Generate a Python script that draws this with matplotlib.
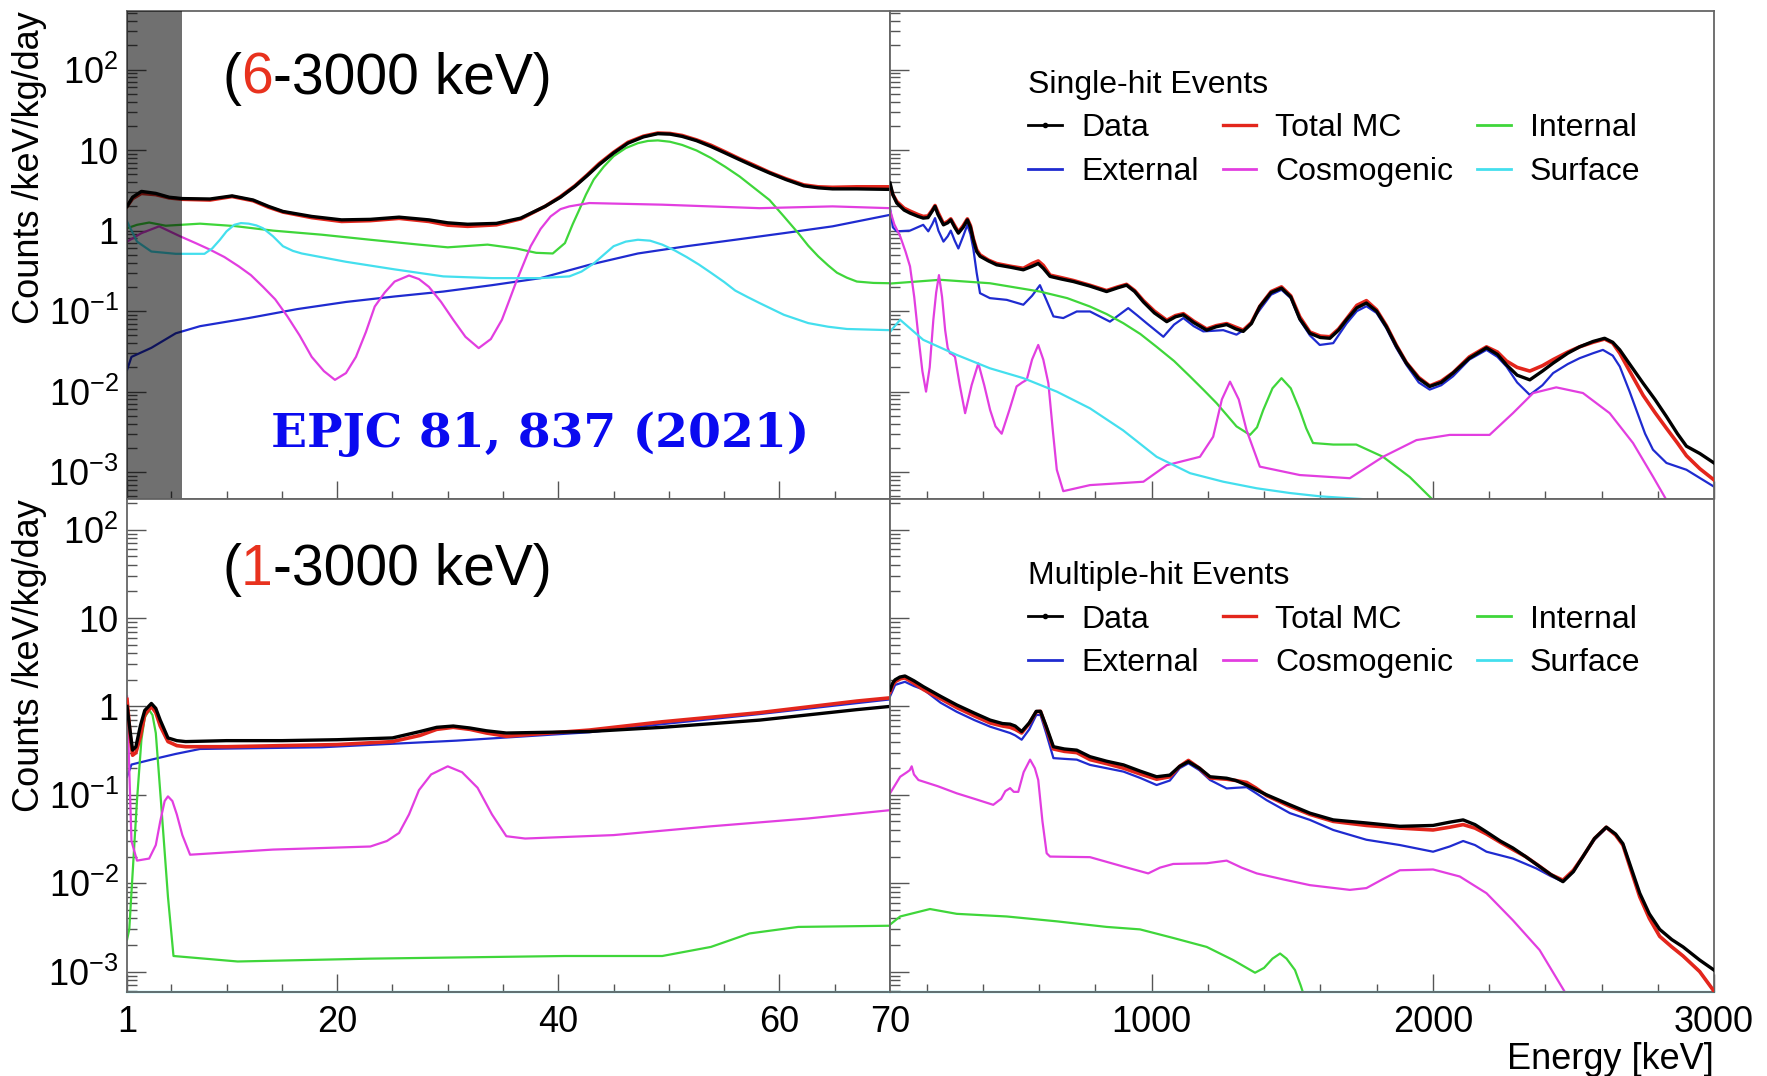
import matplotlib
matplotlib.use("Agg")
import matplotlib.pyplot as plt
from matplotlib.lines import Line2D
from matplotlib.ticker import FixedLocator, FixedFormatter, LogLocator, NullFormatter

plt.rcParams['font.family'] = ['Liberation Sans', 'DejaVu Sans']
plt.rcParams['mathtext.fontset'] = 'custom'
plt.rcParams['mathtext.rm'] = 'Liberation Sans'
plt.rcParams['mathtext.it'] = 'Liberation Sans:italic'
plt.rcParams['mathtext.bf'] = 'Liberation Sans:bold'
plt.rcParams['mathtext.default'] = 'regular'

# ---------------- single-hit, 1-70 keV ----------------
sl_data_e = [1, 1.5, 2.3, 3.6, 4.8, 6, 8.5, 10.5, 12.4, 13.8, 15.1, 17.7, 20.4, 23, 25.6, 28.3,
             30, 31.8, 34.4, 36.6, 38.8, 40.2, 41.5, 42.6, 43.7, 45, 46.3, 47.7, 49, 50.1,
             51.2, 52.5, 53.8, 55.1, 56.4, 57.7, 59.1, 60.6, 62.2, 63.5, 64.8, 67, 70]
sl_data_v = [2.0, 2.6, 3.07, 2.9, 2.6, 2.5, 2.47, 2.7, 2.4, 2.0, 1.73, 1.5, 1.36, 1.38, 1.47,
             1.36, 1.25, 1.2, 1.23, 1.43, 2.0, 2.6, 3.54, 4.8, 6.6, 9.2, 12.2, 14.6, 16, 15.8,
             14.8, 13.1, 11.1, 9.2, 7.6, 6.3, 5.2, 4.3, 3.6, 3.4, 3.3, 3.3, 3.25]
sl_mc_v = [2.0, 2.5, 2.9, 2.8, 2.55, 2.45, 2.4, 2.65, 2.35, 1.95, 1.7, 1.45, 1.3, 1.33, 1.42,
           1.3, 1.17, 1.13, 1.18, 1.4, 2.0, 2.65, 3.6, 4.9, 6.8, 9.4, 12.5, 14.9, 16.3, 16.1,
           15.2, 13.4, 11.5, 9.5, 7.8, 6.5, 5.3, 4.4, 3.7, 3.5, 3.45, 3.5, 3.5]
sl_ext_e = [1, 1.4, 3.2, 5.4, 7.6, 12, 16.4, 20.8, 25.2, 29.6, 34, 38.4, 42.8, 47.2, 51.6,
            56, 60.4, 64.8, 70]
sl_ext_v = [0.0186, 0.027, 0.035, 0.053, 0.065, 0.082, 0.106, 0.13, 0.152, 0.175, 0.21, 0.257,
            0.376, 0.52, 0.64, 0.77, 0.93, 1.13, 1.57]
sl_int_e = [1, 1.9, 3.0, 4.5, 7.6, 10.7, 14.2, 18.6, 23, 27.4, 30, 33.6, 36.2, 38, 39.5, 40.6,
            41.3, 41.9, 42.5, 43.2, 44.1, 45, 46.1, 47.2, 48.1, 49, 50.1, 51.2, 52.5, 53.8,
            55.1, 56.4, 57.7, 59.1, 60.4, 61.7, 62.6, 63.5, 64.4, 65.2, 66.1, 67, 68.5, 70]
sl_int_v = [1.07, 1.18, 1.26, 1.15, 1.22, 1.14, 1.0, 0.89, 0.77, 0.67, 0.62, 0.67, 0.6, 0.53,
            0.52, 0.70, 1.2, 1.82, 2.8, 4.3, 6.2, 8.4, 10.6, 12.2, 13.0, 13.2, 12.7, 11.6, 9.9,
            8.0, 6.2, 4.7, 3.4, 2.4, 1.5, 0.93, 0.65, 0.48, 0.37, 0.30, 0.26, 0.233, 0.224,
            0.222]
sl_cos_e = [1, 2.3, 3.9, 5.8, 7.2, 8.5, 9.8, 11.1, 12.2, 13.3, 14.4, 15.5, 16.6, 17.7, 18.8,
            19.8, 20.8, 21.7, 22.6, 23.4, 24.3, 25.2, 26.5, 27.4, 28.3, 29.4, 30.5, 31.6, 32.8,
            33.9, 34.9, 35.6, 36.2, 36.9, 37.5, 38.4, 39.3, 40.2, 41, 42.8, 49.4, 58.2, 64.8, 70]
sl_cos_v = [0.73, 0.93, 1.13, 0.85, 0.7, 0.58, 0.47, 0.36, 0.28, 0.2, 0.14, 0.086, 0.05, 0.027,
            0.018, 0.014, 0.017, 0.027, 0.055, 0.114, 0.17, 0.233, 0.277, 0.25, 0.2, 0.13,
            0.078, 0.048, 0.0347, 0.045, 0.078, 0.14, 0.233, 0.4, 0.64, 1.05, 1.5, 1.85, 2.0,
            2.2, 2.1, 1.9, 2.0, 1.9]
sl_surf_e = [1, 1.9, 3.2, 5.4, 8.0, 8.7, 9.4, 10, 10.7, 11.3, 12, 12.7, 13.3, 14.2, 15.1, 16,
             16.8, 20.8, 25.2, 29.6, 34, 38.4, 41, 42.1, 43.2, 44.1, 45, 46.1, 47.2, 48.3, 49.4,
             50.5, 51.6, 52.7, 53.8, 55, 56, 57.1, 58.2, 60.4, 62.6, 64.4, 66.1, 70]
sl_surf_v = [1.3, 0.73, 0.55, 0.515, 0.515, 0.6, 0.77, 0.98, 1.18, 1.24, 1.22, 1.16, 1.07,
             0.85, 0.64, 0.56, 0.52, 0.41, 0.33, 0.27, 0.257, 0.257, 0.27, 0.31, 0.39, 0.5,
             0.64, 0.73, 0.77, 0.75, 0.67, 0.57, 0.47, 0.38, 0.30, 0.23, 0.18, 0.15, 0.126,
             0.09, 0.071, 0.064, 0.06, 0.058]

# ---------------- single-hit, 70-3000 keV ----------------
sh_data_e = [70, 80, 94, 120, 141, 170, 188, 205, 220, 230, 240, 260, 275, 286, 300, 313, 330,
             345, 356, 366, 378, 390, 420, 449, 500, 544, 575, 597, 615, 639, 680, 722, 780,
             840, 880, 911, 940, 971, 1010, 1054, 1085, 1113, 1150, 1196, 1230, 1267, 1300,
             1326, 1355, 1385, 1425, 1462, 1495, 1527, 1563, 1600, 1634, 1665, 1693, 1730,
             1764, 1800, 1835, 1870, 1906, 1950, 1989, 2030, 2072, 2130, 2191, 2230, 2262,
             2300, 2345, 2390, 2428, 2480, 2522, 2570, 2611, 2640, 2665, 2700, 2748, 2790,
             2831, 2870, 2902, 2950, 3000]
sh_data_v = [3.9, 2.8, 2.2, 1.8, 1.65, 1.5, 1.43, 1.45, 1.75, 2.0, 1.6, 1.18, 1.25, 1.36, 1.1,
             0.93, 1.1, 1.36, 1.1, 0.77, 0.55, 0.48, 0.42, 0.376, 0.35, 0.326, 0.36, 0.39,
             0.34, 0.27, 0.25, 0.233, 0.205, 0.175, 0.195, 0.21, 0.175, 0.13, 0.095, 0.074,
             0.085, 0.09, 0.072, 0.058, 0.064, 0.068, 0.06, 0.056, 0.07, 0.114, 0.17, 0.193,
             0.15, 0.08, 0.053, 0.047, 0.046, 0.058, 0.078, 0.11, 0.126, 0.1, 0.064, 0.037,
             0.0226, 0.0145, 0.0116, 0.013, 0.017, 0.026, 0.035, 0.029, 0.0215, 0.016, 0.014,
             0.018, 0.0226, 0.03, 0.036, 0.042, 0.046, 0.041, 0.033, 0.022, 0.0127, 0.008,
             0.0049, 0.003, 0.0021, 0.0017, 0.0013]
sh_mc_v = [3.6, 2.8, 2.3, 1.9, 1.75, 1.58, 1.5, 1.52, 1.8, 2.05, 1.7, 1.22, 1.3, 1.4, 1.15,
           0.96, 1.15, 1.4, 1.15, 0.8, 0.58, 0.5, 0.43, 0.39, 0.36, 0.34, 0.39, 0.42, 0.37,
           0.28, 0.26, 0.24, 0.21, 0.18, 0.2, 0.215, 0.18, 0.135, 0.1, 0.077, 0.088, 0.093,
           0.075, 0.06, 0.066, 0.07, 0.063, 0.058, 0.072, 0.115, 0.175, 0.2, 0.155, 0.085,
           0.055, 0.049, 0.048, 0.06, 0.08, 0.118, 0.135, 0.104, 0.066, 0.038, 0.023, 0.015,
           0.0118, 0.0135, 0.0172, 0.027, 0.036, 0.031, 0.024, 0.02, 0.018, 0.021, 0.025,
           0.031, 0.036, 0.041, 0.045, 0.04, 0.03, 0.018, 0.009, 0.0055, 0.0035, 0.0023,
           0.0016, 0.0011, 0.0008]
sh_ext_e = [70, 80, 94, 141, 188, 206, 220, 230, 242, 260, 275, 286, 300, 313, 330, 345, 356,
            366, 378, 390, 425, 485, 544, 575, 603, 625, 651, 686, 734, 781, 852, 885, 917,
            950, 982, 1042, 1080, 1113, 1150, 1184, 1255, 1302, 1340, 1385, 1425, 1462, 1495,
            1527, 1563, 1598, 1646, 1693, 1730, 1764, 1800, 1835, 1870, 1906, 1950, 1989,
            2030, 2072, 2130, 2191, 2230, 2262, 2300, 2345, 2390, 2428, 2480, 2522, 2570,
            2605, 2640, 2665, 2700, 2724, 2755, 2783, 2831, 2902, 3000]
sh_ext_v = [1.9, 1.1, 0.98, 1.0, 1.18, 0.98, 1.2, 1.43, 1.0, 0.73, 0.85, 1.0, 0.75, 0.6, 0.85,
            1.18, 0.9, 0.6, 0.3, 0.167, 0.145, 0.138, 0.12, 0.155, 0.21, 0.14, 0.086, 0.082,
            0.099, 0.099, 0.074, 0.09, 0.109, 0.088, 0.071, 0.048, 0.068, 0.082, 0.065, 0.056,
            0.058, 0.051, 0.062, 0.104, 0.16, 0.184, 0.145, 0.078, 0.05, 0.038, 0.04, 0.07,
            0.1, 0.115, 0.095, 0.061, 0.035, 0.0215, 0.013, 0.0106, 0.012, 0.0155, 0.025,
            0.033, 0.027, 0.0205, 0.013, 0.0091, 0.012, 0.017, 0.022, 0.026, 0.03, 0.033,
            0.028, 0.0205, 0.01, 0.0059, 0.003, 0.0019, 0.0013, 0.00107, 0.00066]
sh_int_e = [70, 248, 425, 603, 700, 781, 840, 899, 960, 1018, 1080, 1137, 1185, 1231, 1270,
            1302, 1350, 1375, 1397, 1430, 1462, 1495, 1527, 1550, 1574, 1646, 1728, 1823,
            1918, 2001]
sh_int_v = [0.22, 0.245, 0.222, 0.175, 0.145, 0.114, 0.092, 0.071, 0.052, 0.036, 0.024,
            0.0154, 0.0105, 0.0072, 0.005, 0.0037, 0.0029, 0.0036, 0.0059, 0.011, 0.0147,
            0.011, 0.0059, 0.0035, 0.0023, 0.0022, 0.0022, 0.00155, 0.00087, 0.00045]
sh_cos_e = [70, 85, 106, 125, 141, 156, 171, 185, 198, 211, 224, 234, 244, 255, 266, 275, 283,
            292, 301, 318, 337, 360, 384, 405, 426, 445, 467, 495, 520, 540, 556, 575, 597,
            615, 633, 650, 663, 686, 781, 971, 1054, 1172, 1219, 1250, 1279, 1310, 1338, 1385,
            1527, 1705, 1823, 1942, 2060, 2202, 2285, 2357, 2439, 2534, 2629, 2712, 2783, 2831]
sh_cos_v = [1.8, 1.2, 0.85, 0.55, 0.36, 0.15, 0.048, 0.018, 0.01, 0.02, 0.078, 0.17, 0.28,
            0.15, 0.058, 0.035, 0.030, 0.029, 0.027, 0.012, 0.0054, 0.012, 0.0225, 0.012,
            0.0059, 0.0037, 0.003, 0.006, 0.0116, 0.013, 0.014, 0.025, 0.038, 0.025, 0.0127,
            0.003, 0.00107, 0.00058, 0.00069, 0.00076, 0.00122, 0.00155, 0.00275, 0.008,
            0.0133, 0.008, 0.0033, 0.00117, 0.00092, 0.00084, 0.00155, 0.0025, 0.0029, 0.0029,
            0.0054, 0.0096, 0.0113, 0.0096, 0.0054, 0.0023, 0.00088, 0.00045]
sh_surf_e = [70, 78, 106, 188, 307, 425, 544, 663, 781, 899, 1018, 1137, 1255, 1374, 1492,
             1600, 1760]
sh_surf_v = [0.055, 0.06, 0.078, 0.044, 0.0286, 0.0195, 0.0147, 0.010, 0.0062, 0.0033, 0.00155,
             0.00097, 0.00076, 0.00063, 0.00055, 0.0005, 0.00046]

# ---------------- multiple-hit, 1-70 keV ----------------
ml_data_e = [1, 1.3, 1.5, 1.8, 2.2, 2.6, 3.2, 3.6, 4.0, 4.7, 5.5, 6.3, 10, 15, 20, 25, 27.5, 29,
             30.5, 32, 33.5, 35.3, 42.8, 49.4, 58.2, 67, 70]
ml_data_v = [1.0, 0.5, 0.32, 0.35, 0.6, 0.9, 1.08, 0.95, 0.7, 0.44, 0.41, 0.4, 0.41, 0.41, 0.42,
             0.44, 0.52, 0.58, 0.6, 0.57, 0.53, 0.5, 0.52, 0.58, 0.7, 0.92, 1.0]
ml_mc_v = [1.2, 0.45, 0.28, 0.3, 0.45, 0.8, 1.0, 0.85, 0.6, 0.4, 0.36, 0.35, 0.35, 0.36, 0.37,
           0.4, 0.47, 0.55, 0.58, 0.55, 0.5, 0.46, 0.54, 0.67, 0.85, 1.15, 1.25]
ml_ext_e = [1, 1.4, 3.2, 5.4, 7.6, 18.6, 30.8, 42.8, 49.4, 58.2, 70]
ml_ext_v = [0.16, 0.22, 0.25, 0.29, 0.33, 0.345, 0.41, 0.51, 0.63, 0.82, 1.2]
ml_int_e = [1, 1.2, 1.45, 1.9, 2.3, 2.6, 3.0, 3.3, 3.6, 4.1, 4.7, 5.2, 11, 23, 40.6, 49.4,
            53.8, 57.3, 61.7, 70]
ml_int_v = [0.0023, 0.003, 0.01, 0.087, 0.42, 0.75, 0.91, 0.8, 0.5, 0.074, 0.007, 0.0015,
            0.0013, 0.0014, 0.0015, 0.0015, 0.0019, 0.0027, 0.0032, 0.0033]
ml_cos_e = [1, 1.4, 1.9, 3.0, 3.6, 4.0, 4.4, 4.7, 5.1, 5.5, 6.0, 6.7, 14.2, 23, 24.5, 25.6,
            26.5, 27.4, 28.5, 30, 31.3, 32.7, 34, 35.3, 37, 45, 53.8, 62.6, 70]
ml_cos_v = [1.3, 0.03, 0.018, 0.019, 0.027, 0.05, 0.085, 0.096, 0.085, 0.06, 0.035, 0.021,
            0.024, 0.026, 0.03, 0.037, 0.06, 0.113, 0.17, 0.21, 0.18, 0.12, 0.06, 0.034, 0.032,
            0.035, 0.044, 0.054, 0.067]
ml_surf_e = [1, 70]
ml_surf_v = [5.9e-4, 5.9e-4]

# ---------------- multiple-hit, 70-3000 keV ----------------
mh_data_e = [70, 80, 88, 105, 123, 155, 189, 250, 307, 370, 426, 470, 497, 515, 538, 565, 590,
             605, 625, 651, 690, 734, 781, 840, 900, 960, 1018, 1065, 1100, 1131, 1170, 1208,
             1267, 1300, 1338, 1370, 1409, 1492, 1563, 1646, 1764, 1883, 2001, 2060, 2108,
             2150, 2191, 2240, 2285, 2330, 2380, 2420, 2463, 2500, 2534, 2575, 2617, 2650,
             2676, 2705, 2736, 2770, 2807, 2850, 2890, 2949, 3000]
mh_data_v = [1.53, 1.85, 2.0, 2.15, 2.21, 1.95, 1.67, 1.3, 1.04, 0.84, 0.70, 0.64, 0.63, 0.6,
             0.52, 0.65, 0.88, 0.88, 0.6, 0.35, 0.33, 0.32, 0.27, 0.24, 0.218, 0.185, 0.16,
             0.167, 0.21, 0.237, 0.2, 0.16, 0.154, 0.145, 0.129, 0.115, 0.1, 0.077, 0.062,
             0.052, 0.048, 0.044, 0.045, 0.049, 0.052, 0.046, 0.038, 0.03, 0.025, 0.02, 0.0154,
             0.0125, 0.0104, 0.0135, 0.02, 0.032, 0.043, 0.036, 0.028, 0.015, 0.0077, 0.0045,
             0.003, 0.0023, 0.0019, 0.00135, 0.00104]
mh_mc_v = [1.45, 1.75, 1.9, 2.05, 2.1, 1.83, 1.55, 1.22, 0.97, 0.78, 0.65, 0.6, 0.58, 0.55,
           0.5, 0.64, 0.87, 0.88, 0.58, 0.33, 0.31, 0.3, 0.25, 0.225, 0.2, 0.172, 0.15, 0.16,
           0.21, 0.245, 0.2, 0.155, 0.15, 0.145, 0.138, 0.12, 0.098, 0.074, 0.06, 0.05, 0.045,
           0.042, 0.04, 0.043, 0.046, 0.042, 0.036, 0.029, 0.024, 0.02, 0.0155, 0.0125,
           0.0108, 0.014, 0.02, 0.032, 0.043, 0.035, 0.027, 0.014, 0.007, 0.004, 0.0025,
           0.0019, 0.0015, 0.001, 0.0006]
mh_ext_e = [70, 88, 123, 155, 189, 250, 307, 370, 426, 497, 515, 538, 565, 590, 605, 625, 651,
            690, 734, 781, 840, 900, 960, 1018, 1065, 1100, 1131, 1170, 1208, 1267, 1300, 1338,
            1370, 1409, 1492, 1563, 1646, 1764, 1883, 2001, 2060, 2108, 2150, 2191, 2285, 2368,
            2420, 2463, 2500, 2534, 2575, 2617, 2650, 2676, 2705, 2736, 2770, 2807, 2850, 2890,
            2949, 3000]
mh_ext_v = [1.3, 1.75, 1.9, 1.7, 1.55, 1.1, 0.87, 0.7, 0.59, 0.50, 0.47, 0.42, 0.55, 0.8, 0.8,
            0.5, 0.26, 0.255, 0.25, 0.218, 0.2, 0.183, 0.155, 0.129, 0.145, 0.2, 0.227, 0.19,
            0.147, 0.118, 0.12, 0.122, 0.105, 0.087, 0.062, 0.052, 0.040, 0.031, 0.027, 0.0227,
            0.026, 0.030, 0.027, 0.0227, 0.019, 0.0147, 0.012, 0.0104, 0.0135, 0.02, 0.031,
            0.042, 0.035, 0.027, 0.014, 0.0072, 0.004, 0.0025, 0.0019, 0.0015, 0.001, 0.0006]
mh_int_e = [70, 106, 212, 307, 485, 663, 840, 959, 1077, 1196, 1290, 1368, 1400, 1430, 1457,
            1480, 1510, 1530, 1545]
mh_int_v = [0.0034, 0.0042, 0.0051, 0.0045, 0.0042, 0.0037, 0.0032, 0.003, 0.0024, 0.0019,
            0.00135, 0.00097, 0.0011, 0.0014, 0.0016, 0.0014, 0.00104, 0.0007, 0.0005]
mh_cos_e = [70, 106, 130, 140, 147, 155, 171, 240, 307, 380, 437, 465, 480, 497, 510, 526, 545,
            568, 585, 597, 612, 627, 639, 781, 900, 988, 1030, 1077, 1196, 1267, 1320, 1374,
            1470, 1563, 1705, 1764, 1820, 1883, 2001, 2096, 2191, 2285, 2380, 2475]
mh_cos_v = [0.104, 0.16, 0.18, 0.19, 0.21, 0.17, 0.147, 0.125, 0.104, 0.088, 0.077, 0.09, 0.11,
            0.119, 0.108, 0.108, 0.18, 0.25, 0.2, 0.147, 0.05, 0.0218, 0.02, 0.0197, 0.0154,
            0.0129, 0.015, 0.0165, 0.0168, 0.018, 0.015, 0.0129, 0.011, 0.0095, 0.0084, 0.0088,
            0.011, 0.014, 0.0143, 0.0119, 0.0077, 0.0038, 0.00175, 0.00055]
mh_surf_e = [70, 3000]
mh_surf_v = [5.9e-4, 5.9e-4]

# axis ticks and labels
low_major = [1, 20, 40, 60, 70]
low_labels = ['1', '20', '40', '60', '70']
low_minor = [5, 10, 15, 25, 30, 35, 45, 50, 55, 65]
high_major = [1000, 2000, 3000]
high_labels = ['1000', '2000', '3000']
high_minor = [200, 400, 600, 800, 1200, 1400, 1600, 1800, 2200, 2400, 2600, 2800]
y_major = [1e-3, 1e-2, 1e-1, 1, 10, 100]
y_labels = [r'$10^{-3}$', r'$10^{-2}$', r'$10^{-1}$', '1', '10', r'$10^{2}$']

legend_names = ['Data', 'External', 'Total MC', 'Cosmogenic', 'Internal', 'Surface']

C_DATA = 'black'
C_MC = '#e3261c'
C_EXT = '#1f2bd0'
C_INT = '#3fd63a'
C_COS = '#e23ee0'
C_SURF = '#44dfee'
C_RED6 = '#e8321e'

fig = plt.figure(figsize=(17.67, 10.76), dpi=100)
L, M, R = 0.0719, 0.5037, 0.970
B, MID, T = 0.078, 0.5362, 0.9898
ax_tl = fig.add_axes([L, MID, M - L, T - MID])
ax_tr = fig.add_axes([M, MID, R - M, T - MID])
ax_bl = fig.add_axes([L, B, M - L, MID - B])
ax_br = fig.add_axes([M, B, R - M, MID - B])


def draw(ax, comps, data_e, data_v, mc_v):
    for e, v, c in comps:
        # surface spectrum of the multi-hit panels sits on the lower frame
        ax.plot(e, v, color=c, lw=1.6, zorder=2, clip_on=len(e) > 2)
    ax.plot(data_e, mc_v, color=C_MC, lw=2.6, zorder=3)
    ax.plot(data_e, data_v, color=C_DATA, lw=2.4, zorder=4)


draw(ax_tl, [(sl_ext_e, sl_ext_v, C_EXT), (sl_int_e, sl_int_v, C_INT),
             (sl_cos_e, sl_cos_v, C_COS), (sl_surf_e, sl_surf_v, C_SURF)],
     sl_data_e, sl_data_v, sl_mc_v)
draw(ax_tr, [(sh_ext_e, sh_ext_v, C_EXT), (sh_int_e, sh_int_v, C_INT),
             (sh_cos_e, sh_cos_v, C_COS), (sh_surf_e, sh_surf_v, C_SURF)],
     sh_data_e, sh_data_v, sh_mc_v)
draw(ax_bl, [(ml_ext_e, ml_ext_v, C_EXT), (ml_int_e, ml_int_v, C_INT),
             (ml_cos_e, ml_cos_v, C_COS), (ml_surf_e, ml_surf_v, C_SURF)],
     ml_data_e, ml_data_v, ml_mc_v)
draw(ax_br, [(mh_ext_e, mh_ext_v, C_EXT), (mh_int_e, mh_int_v, C_INT),
             (mh_cos_e, mh_cos_v, C_COS), (mh_surf_e, mh_surf_v, C_SURF)],
     mh_data_e, mh_data_v, mh_mc_v)

# threshold band below 6 keV
ax_tl.axvspan(1, 6, color='black', alpha=0.56, lw=0, zorder=5)


def style(ax, low, top_row):
    ax.set_yscale('log')
    if top_row:
        ax.set_ylim(4.63e-4, 535)
    else:
        ax.set_ylim(5.86e-4, 222)
    if low:
        ax.set_xlim(1, 70)
        ax.xaxis.set_major_locator(FixedLocator(low_major))
        ax.xaxis.set_major_formatter(FixedFormatter(low_labels))
        ax.xaxis.set_minor_locator(FixedLocator(low_minor))
    else:
        ax.set_xlim(70, 3000)
        ax.xaxis.set_major_locator(FixedLocator(high_major))
        ax.xaxis.set_major_formatter(FixedFormatter(high_labels))
        ax.xaxis.set_minor_locator(FixedLocator(high_minor))
    ax.yaxis.set_major_locator(FixedLocator(y_major))
    ax.yaxis.set_major_formatter(FixedFormatter(y_labels))
    ax.yaxis.set_minor_locator(LogLocator(base=10, subs=range(2, 10), numticks=20))
    ax.yaxis.set_minor_formatter(NullFormatter())
    for s in ax.spines.values():
        s.set_color('#666666')
        s.set_linewidth(1.3)
    ax.tick_params(which='both', direction='in', color='#555555', width=1.0,
                   labelcolor='black', labelsize=26, top=False, right=False)
    ax.tick_params(axis='y', which='major', length=14, pad=6)
    ax.tick_params(axis='y', which='minor', length=7)
    ax.tick_params(axis='x', which='major', length=13, pad=9)
    ax.tick_params(axis='x', which='minor', length=6)
    if top_row:
        ax.tick_params(axis='x', labelbottom=False)
    if not low:
        ax.tick_params(axis='y', labelleft=False)
    else:
        ax.set_ylabel('Counts /keV/kg/day', fontsize=26, loc='top')
        ax.yaxis.set_label_coords(-0.105, 1.0)


style(ax_tl, True, True)
style(ax_tr, False, True)
style(ax_bl, True, False)
style(ax_br, False, False)

ax_br.set_xlabel('Energy [keV]', fontsize=26, loc='right', labelpad=2)

# energy range captions with the threshold in red
for ax, thr, yy in [(ax_tl, '6', 0.861), (ax_bl, '1', 0.856)]:
    t1 = ax.text(0.1245, yy, '(', transform=ax.transAxes, fontsize=41, ha='left', va='center')
    t2 = ax.annotate(thr, xy=(1, 0), xycoords=t1, fontsize=41, ha='left', va='bottom',
                     color=C_RED6)
    ax.annotate('-3000 keV)', xy=(1, 0), xycoords=t2, fontsize=41, ha='left', va='bottom')

ax_tl.text(0.542, 0.133, 'EPJC 81, 837 (2021)', transform=ax_tl.transAxes,
           fontfamily='DejaVu Serif', fontweight='bold', fontsize=34, color='#0a0af0',
           ha='center', va='center', zorder=6)

handles = [Line2D([], [], color=C_DATA, lw=2, marker='o', ms=3),
           Line2D([], [], color=C_EXT, lw=2),
           Line2D([], [], color=C_MC, lw=2.4),
           Line2D([], [], color=C_COS, lw=2),
           Line2D([], [], color=C_INT, lw=2),
           Line2D([], [], color=C_SURF, lw=2)]
for ax, title, ytop in [(ax_tr, 'Single-hit Events', 0.879),
                        (ax_br, 'Multiple-hit Events', 0.874)]:
    ax.legend(handles, legend_names, ncol=3, title=title, loc='upper left',
              bbox_to_anchor=(0.168, ytop), frameon=False, fontsize=23, title_fontsize=23,
              alignment='left', handlelength=1.05, handletextpad=0.6, columnspacing=0.75,
              labelspacing=0.42, borderpad=0, borderaxespad=0)

fig.savefig('out.png', dpi=100)
